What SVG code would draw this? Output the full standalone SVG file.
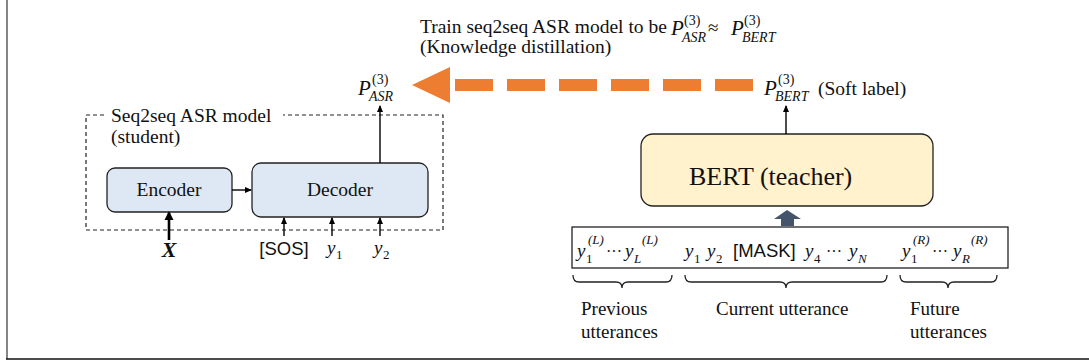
<svg xmlns="http://www.w3.org/2000/svg" width="1089" height="363" viewBox="0 0 1089 363">
<style>
.t{font-family:"Liberation Serif","Times New Roman",serif;font-size:19.5px;fill:#111}
.b{font-size:19px}
.m{font-family:"Liberation Serif","Times New Roman",serif;fill:#111}
.i{font-style:italic}
.s{font-family:"Liberation Sans",Arial,sans-serif;font-size:18.5px;fill:#111}
.ln{stroke:#000;stroke-width:1.4;fill:none}
.box{stroke:#222;stroke-width:1.3}
.dash{stroke:#222;stroke-width:1.2;stroke-dasharray:4 3;fill:none}
</style>
<defs>
<marker id="ah" markerWidth="8" markerHeight="8" refX="6" refY="4" orient="auto" markerUnits="userSpaceOnUse">
<path d="M0,1 L7,4 L0,7 Z" fill="#000"/>
</marker>
<marker id="ahb" markerWidth="10" markerHeight="10" refX="7" refY="5" orient="auto" markerUnits="userSpaceOnUse">
<path d="M0,0.5 L9,5 L0,9.5 Z" fill="#000"/>
</marker>
</defs>
<rect width="1089" height="363" fill="#fff"/>
<g id="frame">
<line x1="7" y1="0" x2="7" y2="359" stroke="#666" stroke-width="1.6"/>
<line x1="6" y1="359" x2="1089" y2="359" stroke="#111" stroke-width="1.6"/>
</g>
<g id="title">
<text class="t" x="420" y="33">Train seq2seq ASR model to be</text>
<text class="m"><tspan class="i" x="671" y="35" font-size="21">P</tspan><tspan x="684" y="25" font-size="14">(3)</tspan><tspan class="i" x="682" y="42" font-size="14">ASR</tspan><tspan x="708" y="34" font-size="19">≈</tspan><tspan class="i" x="731" y="35" font-size="21">P</tspan><tspan x="744" y="25" font-size="14">(3)</tspan><tspan class="i" x="742" y="42" font-size="14">BERT</tspan></text>
<text class="t" x="420" y="53">(Knowledge distillation)</text>
</g>
<g id="student">
<path class="dash" d="M104,115 H86 V230 H443 V115 H283"/>
<text class="t" x="111" y="122">Seq2seq ASR model</text>
<text class="t" x="111" y="143">(student)</text>
</g>
<g id="encoder">
<rect class="box" x="107" y="168" width="125" height="44" rx="8" fill="#DDE8F4"/>
<text class="t" x="169" y="196" text-anchor="middle">Encoder</text>
</g>
<g id="decoder">
<rect class="box" x="252" y="163" width="176" height="54" rx="9" fill="#DDE8F4"/>
<text class="t" x="340" y="196" text-anchor="middle">Decoder</text>
</g>
<g id="p_asr">
<text class="m"><tspan class="i" x="358" y="95" font-size="21">P</tspan><tspan x="372" y="84" font-size="14">(3)</tspan><tspan class="i" x="369" y="101" font-size="14">ASR</tspan></text>
</g>
<g id="p_bert">
<text class="m"><tspan class="i" x="764" y="95" font-size="21">P</tspan><tspan x="778" y="84" font-size="14">(3)</tspan><tspan class="i" x="775" y="101" font-size="14">BERT</tspan></text>
<text class="t" x="818" y="95">(Soft label)</text>
</g>
<g id="bert">
<rect class="box" x="641" y="134" width="292" height="72" rx="12" fill="#FFF2CC"/>
<text class="t" x="689" y="185" style="font-size:26px">BERT (teacher)</text>
</g>
<g id="inputs">
<text x="169" y="257" text-anchor="middle" font-family="Liberation Serif,serif" font-style="italic" font-weight="bold" font-size="22" fill="#111">X</text>
<text class="s" x="284" y="255" text-anchor="middle">[SOS]</text>
<text class="m"><tspan class="i" x="327" y="254" font-size="19">y</tspan><tspan x="336" y="259" font-size="13">1</tspan></text>
<text class="m"><tspan class="i" x="374" y="254" font-size="19">y</tspan><tspan x="383" y="259" font-size="13">2</tspan></text>
</g>
<g id="sequence">
<rect x="572" y="227" width="436" height="41" fill="#fff" stroke="#222" stroke-width="1.3"/>
<text class="m"><tspan class="i" x="577" y="257" font-size="19">y</tspan><tspan x="586" y="263" font-size="13">1</tspan><tspan class="i" x="588" y="244" font-size="13">(L)</tspan><tspan x="606" y="257" font-size="16">···</tspan><tspan class="i" x="625" y="257" font-size="19">y</tspan><tspan class="i" x="634" y="263" font-size="13">L</tspan><tspan class="i" x="642" y="244" font-size="13">(L)</tspan></text>
<text class="m"><tspan class="i" x="685" y="257" font-size="19">y</tspan><tspan x="694" y="263" font-size="13">1</tspan><tspan class="i" x="707" y="257" font-size="19">y</tspan><tspan x="716" y="263" font-size="13">2</tspan></text>
<text class="s" x="733" y="257">[MASK]</text>
<text class="m"><tspan class="i" x="805" y="257" font-size="19">y</tspan><tspan x="814" y="263" font-size="13">4</tspan><tspan x="826" y="257" font-size="16">···</tspan><tspan class="i" x="849" y="257" font-size="19">y</tspan><tspan class="i" x="858" y="263" font-size="13">N</tspan></text>
<text class="m"><tspan class="i" x="902" y="257" font-size="19">y</tspan><tspan x="911" y="263" font-size="13">1</tspan><tspan class="i" x="913" y="244" font-size="13">(R)</tspan><tspan x="932" y="257" font-size="16">···</tspan><tspan class="i" x="953" y="257" font-size="19">y</tspan><tspan class="i" x="962" y="263" font-size="13">R</tspan><tspan class="i" x="971" y="244" font-size="13">(R)</tspan></text>
</g>
<g id="braces" fill="none" stroke="#222" stroke-width="1.3">
<path d="M573,275 Q573,282 579,282 L616,282 Q622,282 622,288 Q622,282 628,282 L666,282 Q672,282 672,275"/>
<path d="M685,275 Q685,282 691,282 L780,282 Q786,282 786,288 Q786,282 792,282 L881,282 Q887,282 887,275"/>
<path d="M900,275 Q900,282 906,282 L942,282 Q948,282 948,288 Q948,282 954,282 L991,282 Q997,282 997,275"/>
</g>
<g id="labels">
<text class="t b" x="581" y="315">Previous</text>
<text class="t b" x="581" y="338">utterances</text>
<text class="t b" x="716" y="315">Current utterance</text>
<text class="t b" x="910" y="315">Future</text>
<text class="t b" x="910" y="338">utterances</text>
</g>
<g id="connectors">
<line class="ln" x1="232" y1="190" x2="251" y2="190" marker-end="url(#ah)"/>
<line class="ln" x1="380" y1="163" x2="380" y2="106" marker-end="url(#ah)"/>
<line class="ln" x1="786" y1="134" x2="786" y2="106" marker-end="url(#ah)"/>
<line x1="169" y1="240" x2="169" y2="213" stroke="#000" stroke-width="2.6" marker-end="url(#ahb)"/>
<line class="ln" x1="284" y1="236" x2="284" y2="218" marker-end="url(#ah)"/>
<line class="ln" x1="332" y1="236" x2="332" y2="218" marker-end="url(#ah)"/>
<line class="ln" x1="380" y1="236" x2="380" y2="218" marker-end="url(#ah)"/>
<path d="M787,210 L801,219 L794,219 L794,226 L781,226 L781,219 L774,219 Z" fill="#44546A"/>
<line x1="753" y1="85" x2="453" y2="85" stroke="#ED7D31" stroke-width="12" stroke-dasharray="38 14"/>
<path d="M412,85 L450,67 L450,103 Z" fill="#ED7D31"/>
</g>
</svg>
